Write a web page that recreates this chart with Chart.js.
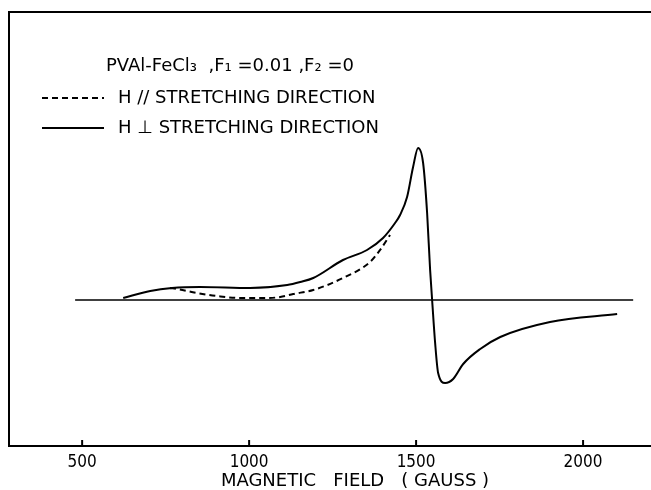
<!DOCTYPE html>
<html>
<head>
<meta charset="utf-8">
<script src="https://cdn.jsdelivr.net/npm/chart.js@4.4.1/dist/chart.umd.min.js"></script>
<style>
  html, body { margin: 0; padding: 0; background: #fff; overflow: hidden; }
  /* the right edge of the frame runs off the page, so the canvas is wider than the view */
  #wrap { width: 651px; height: 490px; overflow: hidden; }
</style>
</head>
<body>
<div id="wrap"><canvas id="esrChart" width="720" height="490"></canvas></div>
<script>
// magnetic field in gauss, signal in arbitrary units (0 = baseline)
const tickFields = [500, 1000, 1500, 2000];

const baseField = [479, 2150];
const baseSignal = [0, 0];

// H perpendicular to stretching direction (solid)
const perpField = [623, 704, 769, 853, 1003, 1114, 1153, 1192, 1281, 1353, 1401, 1437, 1452, 1473, 1491, 1506, 1521, 1533, 1542, 1548, 1557, 1566, 1587, 1611, 1641, 1692, 1752, 1901, 2102];
const perpSignal = [2, 9, 12, 13, 12, 15, 18, 22, 40, 50, 62, 77, 85, 103, 133, 152, 137, 87, 30, 0, -43, -73, -83, -79, -64, -49, -37, -22, -14];

// H parallel to stretching direction (dashed)
const parField = [763, 784, 844, 904, 973, 1054, 1093, 1132, 1192, 1281, 1362, 1392, 1422];
const parSignal = [12, 11, 7, 4, 2, 2, 3, 6, 10, 22, 38, 50, 65];

const headerText = 'PVAl-FeCl\u2083  ,F\u2081 =0.01 ,F\u2082 =0';
const axisTitle = 'MAGNETIC   FIELD   ( GAUSS )';
const FONT = '"DejaVu Sans Condensed", "DejaVu Sans", sans-serif';
const SANS = '"DejaVu Sans", sans-serif';

function pts(xs, ys) {
    return xs.map((x, i) => ({ x: x, y: ys[i] }));
}

// legend sits inside the frame, top-left
const insideLegend = {
    id: 'insideLegend',
    afterDatasetsDraw(chart) {
        const ctx = chart.ctx;
        const a = chart.chartArea;
        ctx.save();
        ctx.fillStyle = '#000';
        ctx.font = '18px ' + SANS;
        ctx.textBaseline = 'middle';
        ctx.fillText(headerText, a.left + 97, a.top + 54);
        let y = a.top + 86;
        chart.data.datasets.forEach(ds => {
            if (!ds.label) return;
            ctx.beginPath();
            ctx.setLineDash(ds.borderDash || []);
            ctx.lineWidth = ds.borderWidth;
            ctx.strokeStyle = ds.borderColor;
            ctx.moveTo(a.left + 33, y);
            ctx.lineTo(a.left + 95, y);
            ctx.stroke();
            ctx.setLineDash([]);
            ctx.fillText(ds.label, a.left + 109, y);
            y += 30;
        });
        ctx.restore();
    }
};

// top edge of the frame, tick marks pointing up, tick labels and axis title
const axisText = {
    id: 'axisText',
    afterDraw(chart) {
        const s = chart.scales.x;
        const a = chart.chartArea;
        const ctx = chart.ctx;
        ctx.save();
        ctx.strokeStyle = '#000';
        ctx.fillStyle = '#000';
        ctx.lineWidth = 2;
        ctx.beginPath();
        ctx.moveTo(a.left - 1, a.top);
        ctx.lineTo(a.right, a.top);
        ctx.stroke();
        ctx.textAlign = 'center';
        ctx.textBaseline = 'middle';
        ctx.font = '17px ' + FONT;
        s.ticks.forEach(t => {
            const px = s.getPixelForValue(t.value);
            ctx.beginPath();
            ctx.moveTo(px, s.top);
            ctx.lineTo(px, s.top - 6);
            ctx.stroke();
            ctx.fillText(String(t.value), px, s.top + 17);
        });
        ctx.font = '18px ' + SANS;
        ctx.fillText(axisTitle, 355, s.top + 35);
        ctx.restore();
    }
};

const white = {
    id: 'white',
    beforeDraw(chart) {
        const ctx = chart.ctx;
        ctx.save();
        ctx.fillStyle = '#fff';
        ctx.fillRect(0, 0, chart.width, chart.height);
        ctx.restore();
    }
};

new Chart(document.getElementById('esrChart'), {
    type: 'line',
    data: {
        datasets: [
            { label: 'H // STRETCHING DIRECTION', data: pts(parField, parSignal), borderColor: '#000', borderWidth: 2, borderDash: [6, 4], pointRadius: 0, cubicInterpolationMode: 'monotone', fill: false },
            { label: 'H \u22A5 STRETCHING DIRECTION', data: pts(perpField, perpSignal), borderColor: '#000', borderWidth: 2, pointRadius: 0, cubicInterpolationMode: 'monotone', fill: false },
            { label: '', data: pts(baseField, baseSignal), borderColor: '#000', borderWidth: 1.5, pointRadius: 0, fill: false }
        ]
    },
    options: {
        responsive: false,
        animation: false,
        devicePixelRatio: 1,
        layout: { padding: { left: 9, top: 12, right: 0, bottom: 44 } },
        plugins: { legend: { display: false }, tooltip: { enabled: false } },
        scales: {
            x: {
                type: 'linear', position: 'bottom', min: 281, max: 2410,
                afterBuildTicks: s => { s.ticks = tickFields.map(v => ({ value: v })); },
                grid: { display: false, drawTicks: false },
                border: { display: true, color: '#000', width: 2 },
                ticks: { display: false }
            },
            y: {
                min: -146, max: 288,
                ticks: { display: false },
                grid: { display: false, drawTicks: false },
                border: { display: true, color: '#000', width: 2 }
            }
        }
    },
    plugins: [white, insideLegend, axisText]
});
</script>
</body>
</html>
